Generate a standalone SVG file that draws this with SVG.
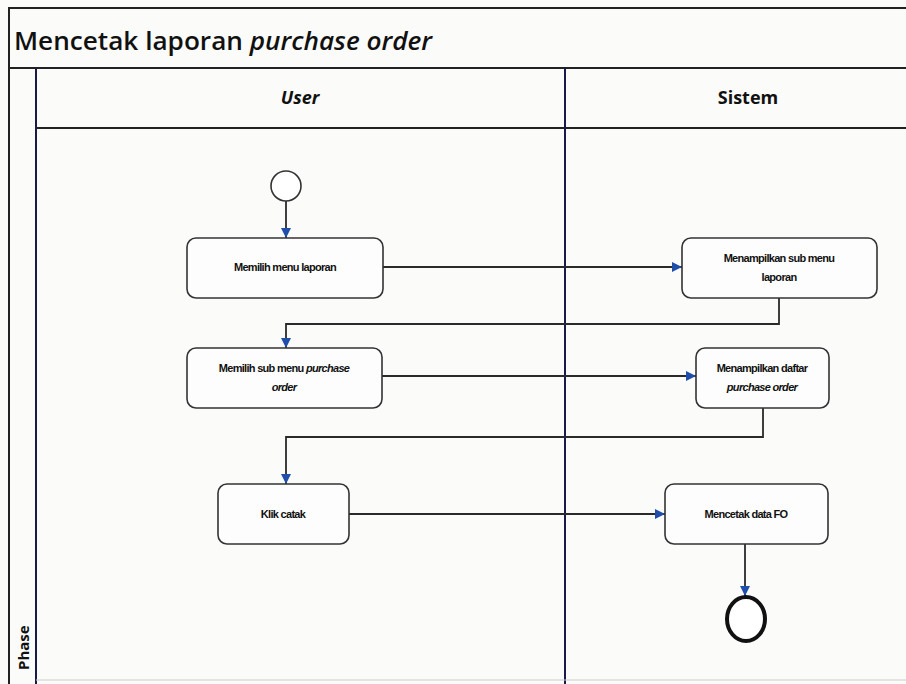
<svg xmlns="http://www.w3.org/2000/svg" width="906" height="684" viewBox="0 0 906 684">
<defs>
<marker id="arr" viewBox="0 0 10 10" refX="10" refY="5" markerWidth="10" markerHeight="10" markerUnits="userSpaceOnUse" orient="auto">
<path d="M0,0 L10,5 L0,10 z" fill="#1f4fa8"/>
</marker>
<style>
.frame{fill:none;stroke:#222;stroke-width:2}
.lane{fill:none;stroke:#1a1a4a;stroke-width:2}
.box{fill:#fdfdfd;stroke:#333;stroke-width:1.6}
.lbl{font-family:"Liberation Sans",Arial,sans-serif;font-size:11px;font-weight:bold;letter-spacing:-0.7px;fill:#111;text-anchor:middle}
.it{font-style:italic}
.hdr{font-family:"Open Sans","Liberation Sans",sans-serif;font-size:18px;font-weight:bold;fill:#111;text-anchor:middle}
.conn{fill:none;stroke:#2a2a2a;stroke-width:1.8;marker-end:url(#arr)}
</style>
</defs>
<rect x="0" y="0" width="906" height="684" fill="#fbfbfa"/>
<g id="frame">
<line class="frame" x1="8" y1="8" x2="906" y2="8"/>
<line class="frame" x1="9" y1="8" x2="9" y2="684"/>
<line class="frame" x1="8" y1="68" x2="906" y2="68"/>
<line class="lane" x1="36" y1="68" x2="36" y2="684"/>
<line class="frame" x1="36" y1="128" x2="906" y2="128"/>
<line class="lane" x1="565" y1="68" x2="565" y2="684"/>
<line x1="36" y1="680" x2="906" y2="680" stroke="#ccc" stroke-width="1"/>
<text x="14" y="50" font-family="Open Sans,Liberation Sans,sans-serif" font-size="25" font-weight="600" fill="#111" textLength="418" lengthAdjust="spacingAndGlyphs">Mencetak laporan <tspan font-style="italic">purchase order</tspan></text>
<text class="hdr" x="300" y="104" font-style="italic">User</text>
<text class="hdr" x="748" y="104">Sistem</text>
<text x="29" y="670" transform="rotate(-90 29 670)" font-family="Open Sans,Liberation Sans,sans-serif" font-size="15" font-weight="bold" fill="#111">Phase</text>
</g>
<g id="connectors">
<line class="conn" x1="286" y1="201" x2="286" y2="238"/>
<line class="conn" x1="383" y1="267" x2="682" y2="267"/>
<polyline class="conn" points="779,298 779,324 286,324 286,348"/>
<line class="conn" x1="382" y1="376" x2="696" y2="376"/>
<polyline class="conn" points="763,408 763,437 286,437 286,484"/>
<line class="conn" x1="349" y1="514" x2="665" y2="514"/>
<line class="conn" x1="745" y1="544" x2="745" y2="596"/>
</g>
<g id="start"><circle cx="286" cy="186" r="15" fill="#fff" stroke="#333" stroke-width="1.6"/></g>
<g id="n1"><rect class="box" x="187" y="238" width="196" height="60" rx="9"/><text class="lbl" x="285" y="271">Memilih menu laporan</text></g>
<g id="n2"><rect class="box" x="682" y="238" width="195" height="60" rx="9"/><text class="lbl" x="779" y="262">Menampilkan sub menu</text><text class="lbl" x="779" y="281">laporan</text></g>
<g id="n3"><rect class="box" x="187" y="348" width="195" height="60" rx="9"/><text class="lbl" x="284" y="372">Memilih sub menu <tspan class="it">purchase</tspan></text><text class="lbl it" x="284" y="391">order</text></g>
<g id="n4"><rect class="box" x="696" y="348" width="133" height="60" rx="9"/><text class="lbl" x="762" y="372">Menampilkan daftar</text><text class="lbl it" x="762" y="391">purchase order</text></g>
<g id="n5"><rect class="box" x="218" y="484" width="131" height="60" rx="9"/><text class="lbl" x="283" y="518">Klik catak</text></g>
<g id="n6"><rect class="box" x="665" y="484" width="163" height="60" rx="9"/><text class="lbl" x="746" y="518">Mencetak data FO</text></g>
<g id="end"><ellipse cx="746" cy="619" rx="19" ry="22" fill="#fff" stroke="#111" stroke-width="4"/></g>
</svg>
